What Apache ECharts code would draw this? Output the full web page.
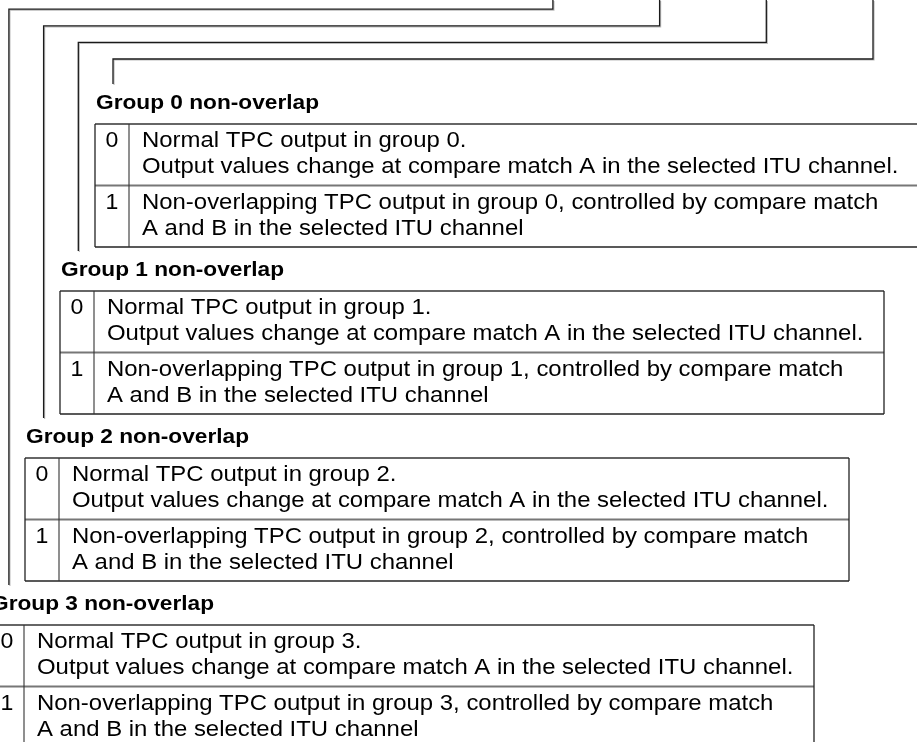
<!DOCTYPE html>
<html>
<head>
<meta charset="utf-8">
<script src="https://cdn.jsdelivr.net/npm/echarts@6/dist/echarts.min.js"></script>
<style>
html,body{margin:0;padding:0;background:#fff;}
#chart{width:917px;height:742px;}
</style>
</head>
<body>
<div id="chart"></div>
<script>
// ---- content ----
const groupIndex = [0, 1, 2, 3];
const groupTitles = ['Group 0 non-overlap', 'Group 1 non-overlap', 'Group 2 non-overlap', 'Group 3 non-overlap'];
const bitCodes = ['0', '1'];
const row0Line1 = ['Normal TPC output in group 0.', 'Normal TPC output in group 1.', 'Normal TPC output in group 2.', 'Normal TPC output in group 3.'];
const row0Line2 = [
  'Output values change at compare match A in the selected ITU channel.',
  'Output values change at compare match A in the selected ITU channel.',
  'Output values change at compare match A in the selected ITU channel.',
  'Output values change at compare match A in the selected ITU channel.'
];
const row1Line1 = [
  'Non-overlapping TPC output in group 0, controlled by compare match',
  'Non-overlapping TPC output in group 1, controlled by compare match',
  'Non-overlapping TPC output in group 2, controlled by compare match',
  'Non-overlapping TPC output in group 3, controlled by compare match'
];
const row1Line2 = [
  'A and B in the selected ITU channel',
  'A and B in the selected ITU channel',
  'A and B in the selected ITU channel',
  'A and B in the selected ITU channel'
];

// ---- layout (diagram units = px of a 917x742 canvas) ----
const FONT = "'Liberation Sans', Arial, Helvetica, sans-serif";
const FS = 22, SX = 1.087;
const TFS = 21, TSX = 1.08;
const L0 = 95, DX = 35, TW = 824, CODEW = 34;
const TITLE0 = 103, DY = 167, ROWH = 61.5;

const chart = echarts.init(document.getElementById('chart'), null, {renderer: 'canvas'});

function txt(p, text, opt) {
  return {
    type: 'text', x: p[0], y: p[1], scaleX: opt.sx || SX, scaleY: 1,
    style: {
      text: text, x: 0, y: 0, fill: '#000',
      font: (opt.bold ? 'bold ' : '') + (opt.fs || FS) + 'px ' + FONT,
      align: opt.align || 'left', verticalAlign: 'middle'
    },
    silent: true
  };
}

function renderTable(params, api) {
  const k = api.value(0);
  const L = L0 - DX * k, R = L + TW, D = L + CODEW;
  const tY = TITLE0 + DY * k;
  const top = tY + 21, mid = top + ROWH, bot = top + 2 * ROWH;
  const c = (x, y) => api.coord([x, y]);
  const kids = [];
  kids.push(txt(c(L + 1, tY), groupTitles[k], {bold: true, fs: TFS, sx: TSX}));
  const line = (a, b, w, col) => ({type: 'line', shape: {x1: a[0], y1: a[1], x2: b[0], y2: b[1]}, style: {stroke: col, lineWidth: w}, silent: true});
  kids.push(line(c(L, top), c(R, top), 1.3, '#333'));
  kids.push(line(c(L, bot), c(R, bot), 1.3, '#222'));
  kids.push(line(c(L, mid), c(R, mid), 2, '#777'));
  kids.push(line(c(L, top), c(L, bot), 1.3, '#222'));
  kids.push(line(c(R, top), c(R, bot), 1.3, '#222'));
  kids.push(line(c(D, top), c(D, bot), 1.1, '#333'));
  const rows = [[row0Line1[k], row0Line2[k]], [row1Line1[k], row1Line2[k]]];
  rows.forEach((r, i) => {
    const rt = top + i * ROWH;
    kids.push(txt(c(L + CODEW / 2, rt + 17), bitCodes[i], {align: 'center', sx: 1.05}));
    kids.push(txt(c(D + 13, rt + 17), r[0], {}));
    kids.push(txt(c(D + 13, rt + 43), r[1], {}));
  });
  return {type: 'group', children: kids};
}

function renderConnector(params, api) {
  const k = api.value(0);
  const vx = 113 - 34.7 * k;
  const hy = 59 - 16.6 * k;
  const topX = 873 - 106.7 * k;
  const endY = TITLE0 + DY * k - 19;
  const pts = [[topX, 0], [topX, hy], [vx, hy], [vx, endY]].map(p => api.coord(p));
  return {
    type: 'group',
    children: [
      {type: 'polyline', shape: {points: pts.map(p => [p[0] + 1, p[1] + 1])}, style: {stroke: '#bbb', lineWidth: 1.2, fill: null}, silent: true},
      {type: 'polyline', shape: {points: pts}, style: {stroke: '#1a1a1a', lineWidth: 1.3, fill: null}, silent: true}
    ]
  };
}

chart.setOption({
  animation: false,
  backgroundColor: '#fff',
  grid: {left: 0, right: 0, top: 0, bottom: 0},
  xAxis: {type: 'value', min: 0, max: 917, show: false},
  yAxis: {type: 'value', min: 0, max: 742, inverse: true, show: false},
  series: [
    {type: 'custom', name: 'connectors', data: groupIndex.map(g => [g]), renderItem: renderConnector, clip: false},
    {type: 'custom', name: 'tables', data: groupIndex.map(g => [g]), renderItem: renderTable, clip: false}
  ]
});
</script>
</body>
</html>
